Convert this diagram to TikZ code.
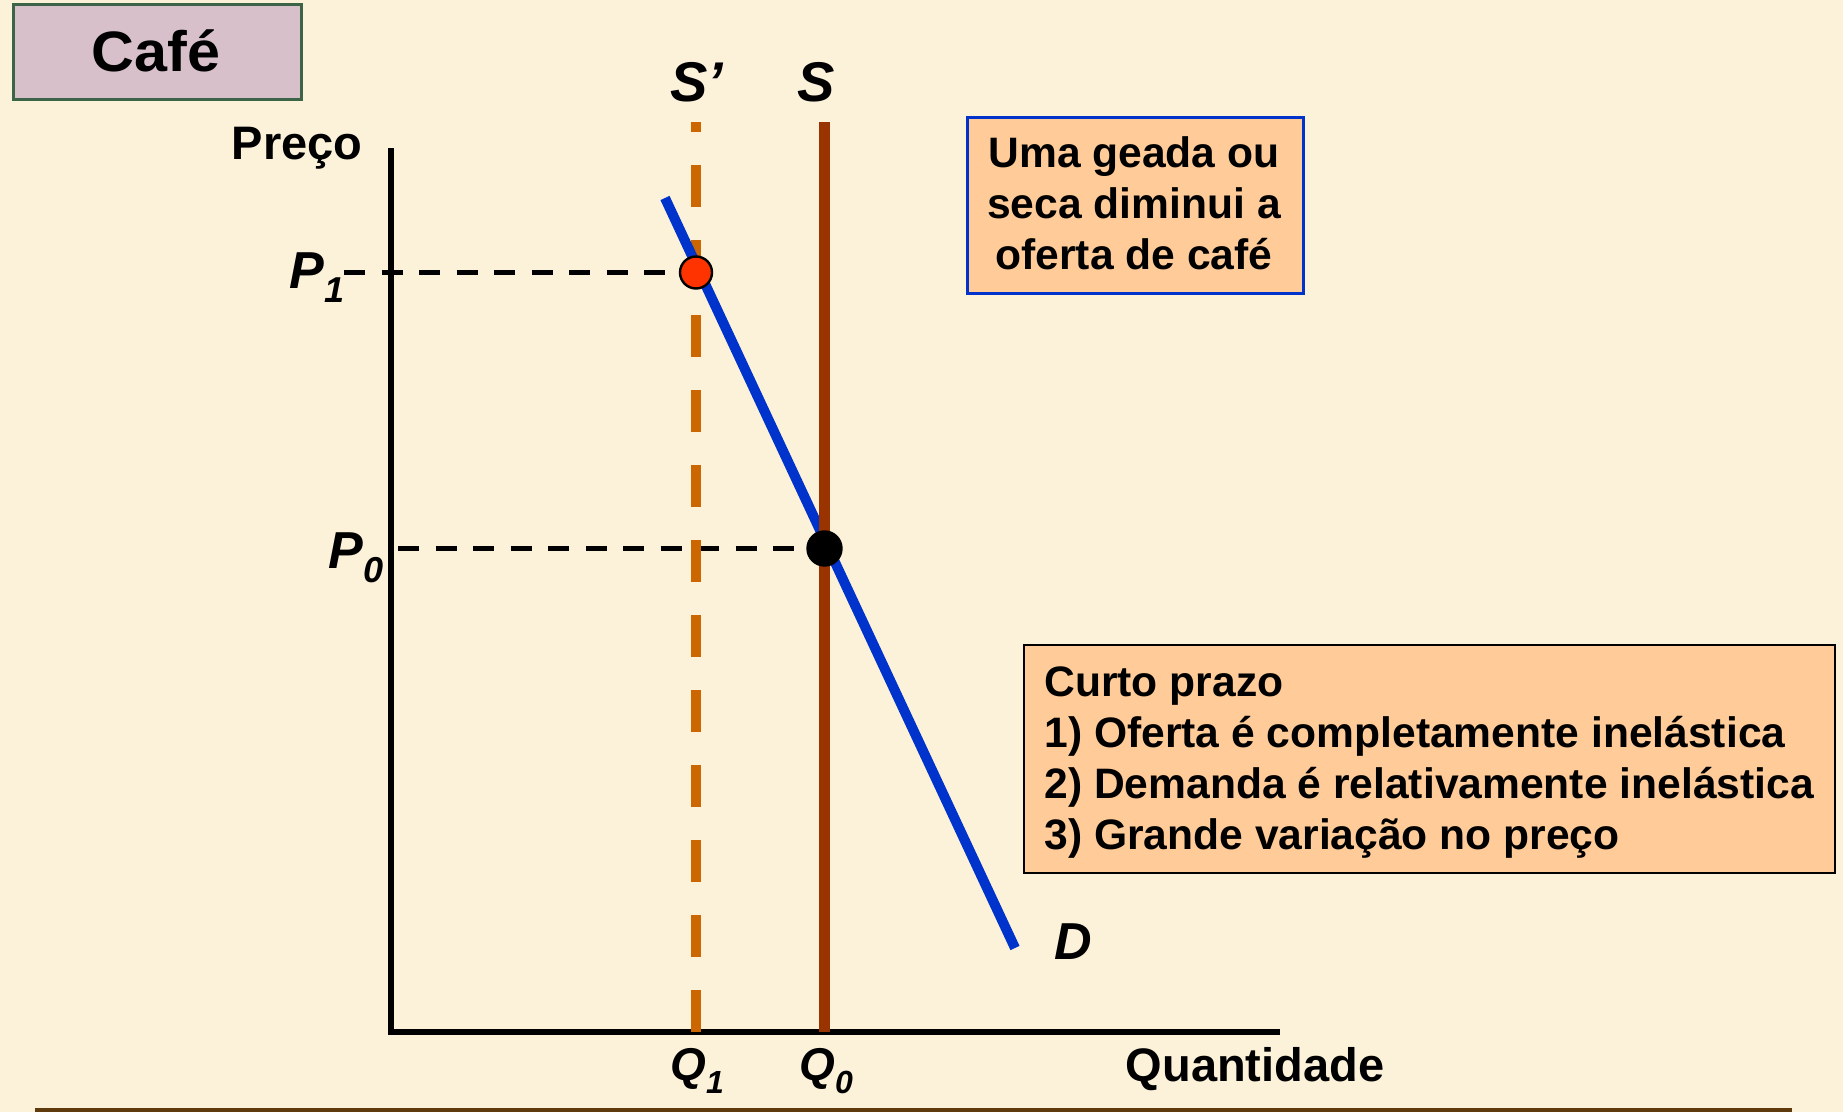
\documentclass[tikz,border=0pt]{standalone}
\usepackage{fontspec}
\usepackage{graphicx}
\setmainfont{Liberation Sans}
\definecolor{bgcol}{HTML}{FCF1D9}
\definecolor{cafefill}{HTML}{D8C0CB}
\definecolor{cafeborder}{HTML}{3C6446}
\definecolor{boxfill}{HTML}{FFCC99}
\definecolor{dblue}{HTML}{0033CC}
\definecolor{sorange}{HTML}{CC6600}
\definecolor{sbrown}{HTML}{993300}
\definecolor{redpt}{HTML}{FF3300}
\definecolor{rulecol}{HTML}{5E3A0C}
\begin{document}
\begin{tikzpicture}[x=0.5pt,y=-0.5pt,
  txt/.style={inner sep=0pt, font=\bfseries},
  boxnode/.style={draw, inner sep=0pt, anchor=north west},
  dotnode/.style={circle, inner sep=0pt, draw=black, line width=1.2pt},
  guide/.style={black, line width=2.65pt, dash pattern=on 10.5pt off 8.25pt},
  boxtxt/.style={inner sep=0pt, font=\fontsize{21.3}{21.3}\selectfont\bfseries},
]
\fill[bgcol] (0,0) rectangle (1843,1112);
\useasboundingbox (0,0) rectangle (1843,1112);

% title box
\node[boxnode, fill=cafefill, draw=cafeborder, line width=1.5pt,
      minimum width=144pt, minimum height=47.5pt] (cafebox) at (12,3) {};
\node[txt, anchor=base] (cafe) at (156,72)
  {\fontsize{28.5}{28.5}\selectfont\scalebox{1.04}[1]{Café}};

% axis labels
\node[txt, anchor=base] (preco) at (297,160)
  {\fontsize{23.5}{23.5}\selectfont Preço};
\node[txt, anchor=base] (quant) at (1255,1081)
  {\fontsize{23.5}{23.5}\selectfont Quantidade};

% coordinates
\coordinate (O) at (391,1032);
\coordinate (ytop) at (391,148);
\coordinate (xend) at (1280,1032);
\coordinate (E1) at (696,272.5);
\coordinate (E0) at (824.5,548.5);
\coordinate (p1start) at (344,272.5);
\coordinate (p0start) at (398,548.5);
\coordinate (sptop) at (696,122);
\coordinate (spbot) at (696,1032);
\coordinate (stop) at (824.5,122);
\coordinate (sbot) at (824.5,1032);
\coordinate (dtop) at (665,198);
\coordinate (dbot) at (1015,948);

% axes
\draw[line width=3pt, line join=miter] (ytop) -- (O) -- (xend);

% guides
\draw[guide] (p1start) -- (E1);
\draw[guide] (p0start) -- (E0);

% supply S'
\draw[sorange, line width=5.25pt, dash pattern=on 21pt off 16.5pt] (spbot) -- (sptop);
% demand
\draw[dblue, line width=5pt] (dtop) -- (dbot);
% supply S
\draw[sbrown, line width=5.25pt] (sbot) -- (stop);

% points
\node[dotnode, fill=redpt, minimum size=16pt] (e1) at (E1) {};
\node[dotnode, fill=black, minimum size=17pt] (e0) at (E0) {};

% curve labels
\node[txt, anchor=base west] (sprime) at (670,102)
  {\fontsize{28}{28}\selectfont\itshape S’};
\node[txt, anchor=base west] (slab) at (797,102)
  {\fontsize{28}{28}\selectfont\itshape S};
\node[txt, anchor=base west] (dlab) at (1054,959)
  {\fontsize{26}{26}\selectfont\itshape D};

% price labels
\node[txt, anchor=base west] (p1lab) at (289,289)
  {\fontsize{26}{26}\selectfont\itshape P\raisebox{-7pt}{\fontsize{18}{18}\selectfont 1}};
\node[txt, anchor=base west] (p0lab) at (328,568)
  {\fontsize{26}{26}\selectfont\itshape P\raisebox{-7pt}{\fontsize{18}{18}\selectfont 0}};

% quantity labels
\node[txt, anchor=base west] (q1lab) at (670,1080)
  {\fontsize{23}{23}\selectfont\itshape Q\raisebox{-6.5pt}{\fontsize{16}{16}\selectfont 1}};
\node[txt, anchor=base west] (q0lab) at (799,1080)
  {\fontsize{23}{23}\selectfont\itshape Q\raisebox{-6.5pt}{\fontsize{16}{16}\selectfont 0}};

% box 1
\node[boxnode, fill=boxfill, draw=dblue, line width=1.5pt,
      minimum width=168pt, minimum height=88pt] (box1) at (966,116) {};
\node[boxtxt, anchor=base] (b1a) at (1134,168) {Uma geada ou};
\node[boxtxt, anchor=base] (b1b) at (1134,219) {seca diminui a};
\node[boxtxt, anchor=base] (b1c) at (1134,270) {oferta de café};

% box 2
\node[boxnode, fill=boxfill, draw=black, line width=1.2pt,
      minimum width=405.5pt, minimum height=114pt] (box2) at (1023,644) {};
\node[boxtxt, anchor=base west] (b2a) at (1044,696) {Curto prazo};
\node[boxtxt, anchor=base west] (b2b) at (1044,747) {1) Oferta é completamente inelástica};
\node[boxtxt, anchor=base west] (b2c) at (1044,798) {2) Demanda é relativamente inelástica};
\node[boxtxt, anchor=base west] (b2d) at (1044,849) {3) Grande variação no preço};

% bottom rule
\coordinate (rl) at (35,1110);
\coordinate (rr) at (1792,1110);
\draw[rulecol, line width=2pt] (rl) -- (rr);
\end{tikzpicture}
\end{document}
